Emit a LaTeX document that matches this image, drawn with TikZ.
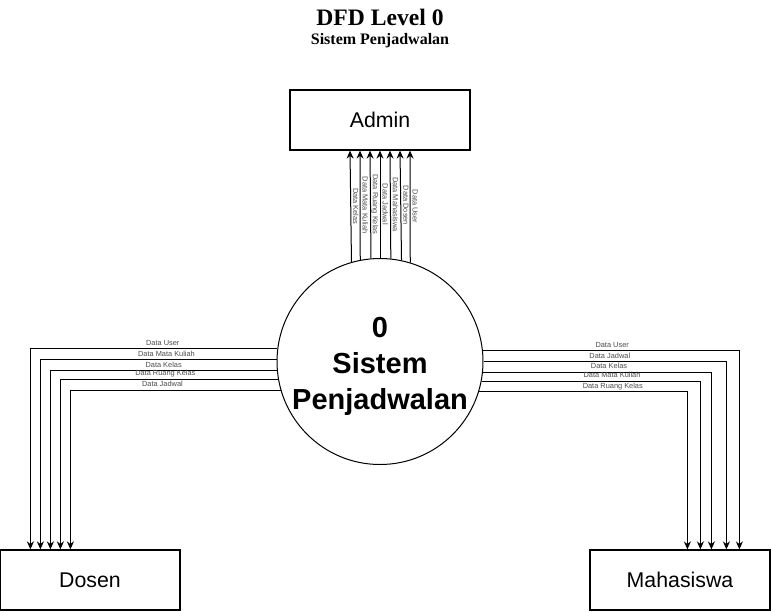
\documentclass[tikz,border=0pt]{standalone}
\usepackage{fontspec}
\setmainfont{Liberation Serif}
\setsansfont{Liberation Sans}
\usepackage{tikz}
\usetikzlibrary{positioning,shapes,arrows.meta,calc}
\tikzstyle{ent}=[%
      rectangle, draw=black, line width=1.2pt, fill=white,
      minimum height=60pt, minimum width=180pt, inner sep=0pt,
      font=\sffamily\fontsize{21.3}{24}\selectfont
]
\tikzstyle{proc}=[%
      circle, draw=black, line width=1pt, fill=white, minimum size=206pt, inner sep=0pt,
      align=center, text height=95pt, text depth=0pt,
      font=\sffamily\bfseries\fontsize{29}{36}\selectfont
]
\tikzstyle{lbl}=[%
      font=\sffamily\fontsize{7.4}{8}\selectfont, text=black!70, inner sep=0pt, anchor=base
]
\tikzstyle{lblh}=[lbl, yshift=3.5pt]
\tikzstyle{lblv}=[lbl, xshift=2.5pt, rotate=-90]
\tikzstyle{hv}=[to path={-| (\tikztotarget) \tikztonodes}]

\begin{document}
\begin{tikzpicture}[x=1pt, y=-1pt,
    ->,
    >={Stealth[length=8pt,width=7pt]},
    line width=1pt
  ]
    \useasboundingbox (0,0) rectangle (771,611);
    \node[anchor=base, font=\bfseries\fontsize{23.6}{28}\selectfont] (title) at (380,25) {DFD Level 0};
    \node[anchor=base, font=\bfseries\fontsize{16}{19}\selectfont] (subtitle) at (380,44) {Sistem Penjadwalan};

    \node[ent]  (admin) at (380,120)   {Admin};
    \node[ent]  (dosen) at (90,580)    {Dosen};
    \node[ent]  (mhs)   at (680,580)   {Mahasiswa};
    \node[proc] (proc)  at (380,361.5) {0\\Sistem\\Penjadwalan};

    % ke Admin
    \path (proc.106.93) edge node[lblv] {Data Kelas} ([xshift=-30pt]admin.south)
          (proc.101.20) edge node[lblv] {Data Mata Kuliah} ([xshift=-20pt]admin.south)
          (proc.95.57)  edge node[lblv] {Data Ruang Kelas} ([xshift=-10pt]admin.south)
          (proc.90)     edge node[lblv] {Data Jadwal} (admin.south)
          (proc.84.43)  edge node[lblv] {Data Mahasiswa} ([xshift=10pt]admin.south)
          (proc.78.80)  edge node[lblv] {Data Dosen} ([xshift=20pt]admin.south)
          (proc.73.07)  edge node[lblv] {Data User} ([xshift=30pt]admin.south)
    ;

    % ke Dosen
    \path (proc.173.87) edge[hv] node[lblh, pos=.232] {Data User} ([xshift=31pt]dosen.north west)
          (proc.179.44) edge[hv] node[lblh, pos=.233] {Data Mata Kuliah} ([xshift=41pt]dosen.north west)
          (proc.185.01) edge[hv] node[lblh, pos=.25] {Data Kelas} ([xshift=51pt]dosen.north west)
          (proc.190.63) edge[hv] node[lblh, pos=.259] {Data Ruang Kelas} ([xshift=61pt]dosen.north west)
          (proc.196.35) edge[hv] node[lblh, pos=.281] {Data Jadwal} ([xshift=71pt]dosen.north west)
    ;

    % ke Mahasiswa
    \path (proc.6.13)   edge[hv] node[lblh, pos=.252] {Data User} ([xshift=150pt]mhs.north west)
          (proc.0.56)   edge[hv] node[lblh, pos=.26] {Data Jadwal} ([xshift=137pt]mhs.north west)
          (proc.354.99) edge[hv] node[lblh, pos=.276] {Data Kelas} ([xshift=122pt]mhs.north west)
          (proc.349.37) edge[hv] node[lblh, pos=.298] {Data Mata Kuliah} ([xshift=111pt]mhs.north west)
          (proc.343.65) edge[hv] node[lblh, pos=.321] {Data Ruang Kelas} ([xshift=98pt]mhs.north west)
    ;
  \end{tikzpicture}
\end{document}
